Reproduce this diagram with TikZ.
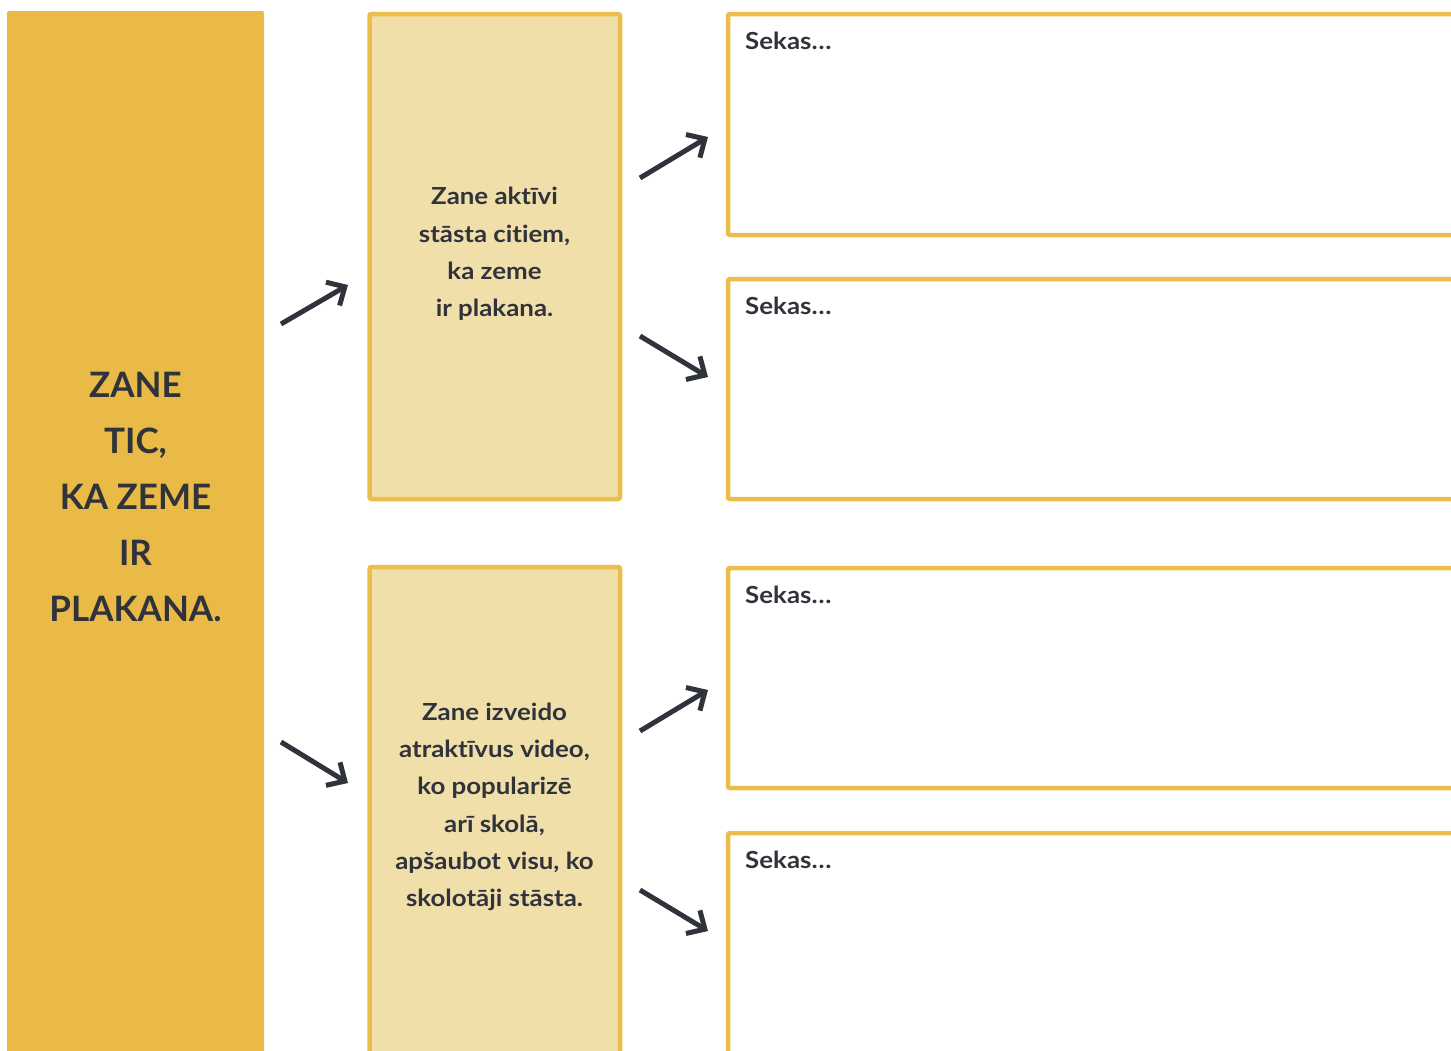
\documentclass[tikz,border=0pt]{standalone}
\usepackage{fontspec}
\setmainfont{Lato}[Ligatures=NoCommon]
\newfontfamily\widefont{Lato}[FakeStretch=1.1, Ligatures=NoCommon]
\usetikzlibrary{arrows.meta}
\definecolor{gold}{HTML}{E9BA46}
\definecolor{goldline}{HTML}{EBBD4A}
\definecolor{sand}{HTML}{F1DFAA}
\definecolor{ink}{HTML}{30333B}

\begin{document}
\begin{tikzpicture}[x = 1pt, y = -1pt,
        causebox/.style = {fill=gold, rounded corners=2pt, minimum width=257pt, minimum height=1060pt, inner sep=0pt},
        actbox/.style = {draw=goldline, fill=sand, line width=4.5pt, rounded corners=2pt, minimum width=250.5pt, inner sep=0pt},
        resbox/.style = {draw=goldline, fill=white, line width=4.5pt, rounded corners=2pt, minimum width=740pt, inner sep=0pt},
        bigtxt/.style = {font=\fontsize{35}{56}\selectfont\bfseries, text=ink, align=center, inner sep=0pt},
        acttxt/.style = {font=\widefont\fontsize{23.5}{37.3}\selectfont\bfseries, text=ink, align=center, inner sep=0pt},
        restxt/.style = {font=\widefont\fontsize{23.5}{25}\selectfont\bfseries, text=ink, anchor=west, inner sep=0pt},
        arr/.style = {ink, line width=5pt, -{Straight Barb[length=14pt, width=27pt]}}]
        \useasboundingbox (0,0) rectangle (1451,1050);
        \clip (0,0) rectangle (1451,1050);

        \node[causebox] (cause) at (135.5,541) {};
        \node[bigtxt] (causetxt) at (135.5,497) {ZANE\\TIC,\\KA ZEME\\IR\\PLAKANA.};

        \node[actbox, minimum height=485pt] (act1) at (494.75,256.5) {};
        \node[acttxt] (act1txt) at (494.5,254) {Zane aktīvi\\stāsta citiem,\\ka zeme\\ir plakana.};
        \node[actbox, minimum height=508pt] (act2) at (494.75,821) {};
        \node[acttxt] (act2txt) at (494.5,807) {Zane izveido\\atraktīvus video,\\ko popularizē\\arī skolā,\\apšaubot visu, ko\\skolotāji stāsta.};

        \node[resbox, minimum height=221pt] (res1) at (1098,124.5) {};
        \node[resbox, minimum height=220pt] (res2) at (1098,389) {};
        \node[resbox, minimum height=220pt] (res3) at (1098,678) {};
        \node[resbox, minimum height=237pt] (res4) at (1098,951.5) {};
        \node[restxt] (res1txt) at (745,41) {Sekas…};
        \node[restxt] (res2txt) at (745,306) {Sekas…};
        \node[restxt] (res3txt) at (745,595) {Sekas…};
        \node[restxt] (res4txt) at (745,860) {Sekas…};

        \coordinate (c1a) at (281,324); \coordinate (c1b) at (348,285);
        \coordinate (c2a) at (281,742); \coordinate (c2b) at (348,783);
        \coordinate (a1a) at (640,178); \coordinate (a1b) at (708,137);
        \coordinate (a2a) at (640,336); \coordinate (a2b) at (708,377);
        \coordinate (a3a) at (640,731); \coordinate (a3b) at (708,690);
        \coordinate (a4a) at (640,890); \coordinate (a4b) at (708,931);
        \draw[arr] (c1a) -- (c1b);
        \draw[arr] (c2a) -- (c2b);
        \draw[arr] (a1a) -- (a1b);
        \draw[arr] (a2a) -- (a2b);
        \draw[arr] (a3a) -- (a3b);
        \draw[arr] (a4a) -- (a4b);
    \end{tikzpicture}
\end{document}
